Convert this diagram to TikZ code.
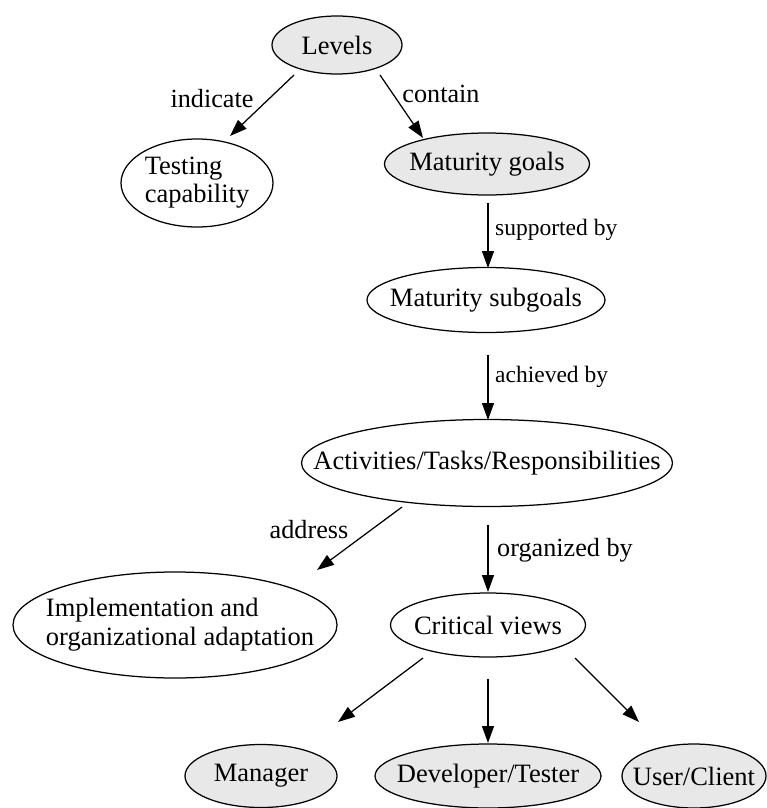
\documentclass[tikz,border=0pt]{standalone}
\usepackage{fontspec}
\setmainfont{Liberation Serif}
\usetikzlibrary{arrows.meta,shapes.geometric}

\definecolor{nodegray}{RGB}{232,232,232}
\newcommand\bubblefont{\fontsize{26.5}{29}\selectfont}
\newcommand\tagfont{\fontsize{26.2}{29}\selectfont}
\newcommand\smalltagfont{\fontsize{23.5}{27}\selectfont}
% zero-width box so the ellipse size is set only by its minimum sizes
\newcommand\bubbletext[1]{\makebox[0pt]{#1}}
\newcommand\twolines[2]{\makebox[0pt]{\begin{tabular}{@{}l@{}}#1\\#2\end{tabular}}}

\begin{document}
\begin{tikzpicture}[x=1pt,y=-1pt,
  bubble/.style={shape=ellipse, draw=black, line width=1.25pt, inner sep=0pt, font=\bubblefont},
  shaded/.style={bubble, fill=nodegray},
  plain/.style={bubble, fill=white},
  link/.style={draw=black, line width=1.25pt, -{Triangle[length=17pt,width=12pt]}},
  tag/.style={font=\tagfont, inner sep=0pt, anchor=base},
  tagwest/.style={font=\tagfont, inner sep=0pt, anchor=base west},
  smalltag/.style={font=\smalltagfont, inner sep=0pt, anchor=base west}]

\useasboundingbox (0,0) rectangle (767,808);
\fill[white] (0,0) rectangle (767,808);

% concept nodes
\node[shaded, minimum width=130pt, minimum height=58pt] (levels) at (337,45) {\bubbletext{Levels}};
\node[plain, minimum width=152pt, minimum height=88pt] (testing) at (197,183)
  {\renewcommand\arraystretch{0.97}\twolines{Testing}{capability}};
\node[shaded, minimum width=205pt, minimum height=62pt] (goals) at (487,164) {\bubbletext{Maturity goals}};
\node[plain, minimum width=238pt, minimum height=65pt] (subgoals) at (486,300) {\bubbletext{Maturity subgoals}};
\node[plain, minimum width=371pt, minimum height=87pt] (acts) at (487,463) {\bubbletext{Activities/Tasks/Responsibilities}};
\node[plain, minimum width=324pt, minimum height=106pt] (impl) at (175,625)
  {\hspace*{10pt}\twolines{Implementation and}{organizational adaptation}};
\node[plain, minimum width=195pt, minimum height=64pt] (critical) at (488,625) {\bubbletext{Critical views}};
\node[shaded, minimum width=152pt, minimum height=63pt] (manager) at (261,776) {\bubbletext{Manager}};
\node[shaded, minimum width=226pt, minimum height=64pt] (dev) at (488,776) {\bubbletext{Developer/Tester}};
\node[shaded, minimum width=144pt, minimum height=64pt] (user) at (694,776) {\bubbletext{User/Client}};

% connector end points
\coordinate (c1s) at (294,75);  \coordinate (c1e) at (230,136);
\coordinate (c2s) at (380,75);  \coordinate (c2e) at (423,138);
\coordinate (c3s) at (488,203); \coordinate (c3e) at (488,268);
\coordinate (c4s) at (488,355); \coordinate (c4e) at (488,420);
\coordinate (c5s) at (402,507); \coordinate (c5e) at (317,570);
\coordinate (c6s) at (488,525); \coordinate (c6e) at (488,592);
\coordinate (c7s) at (423,658); \coordinate (c7e) at (338,722);
\coordinate (c8s) at (488,679); \coordinate (c8e) at (488,743);
\coordinate (c9s) at (575,658); \coordinate (c9e) at (639,722);

% connectors
\draw[link] (c1s) -- (c1e);
\draw[link] (c2s) -- (c2e);
\draw[link] (c3s) -- (c3e);
\draw[link] (c4s) -- (c4e);
\draw[link] (c5s) -- (c5e);
\draw[link] (c6s) -- (c6e);
\draw[link] (c7s) -- (c7e);
\draw[link] (c8s) -- (c8e);
\draw[link] (c9s) -- (c9e);

% connector labels
\node[tag] (lindicate) at (212,107) {indicate};
\node[tag] (lcontain) at (441,102) {contain};
\node[smalltag] (lsupported) at (495,235) {supported by};
\node[smalltag] (lachieved) at (495,382) {achieved by};
\node[tag] (laddress) at (309,538) {address};
\node[tagwest] (lorganized) at (497,556) {organized by};
\end{tikzpicture}
\end{document}
